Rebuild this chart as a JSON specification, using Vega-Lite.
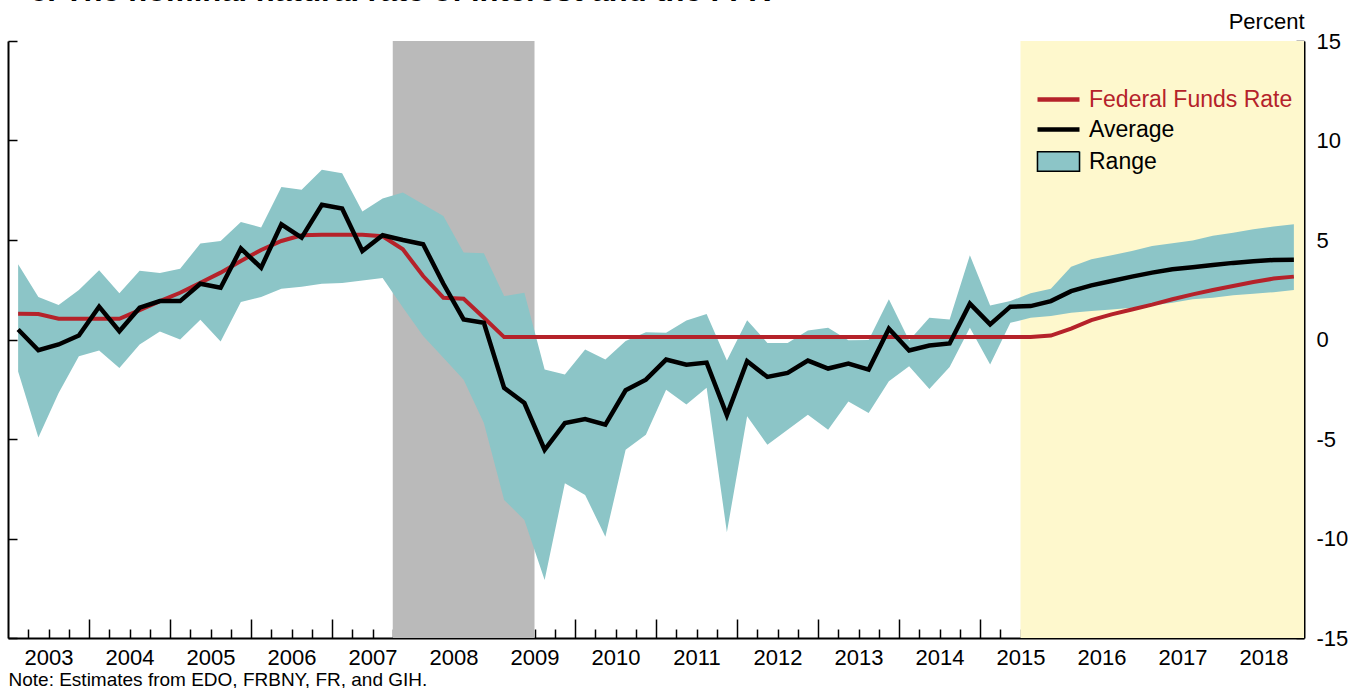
{
  "$schema": "https://vega.github.io/schema/vega-lite/v6.json",
  "width": 1296,
  "height": 597,
  "autosize": {"type": "none"},
  "padding": {"left": 8, "top": 41, "right": 65, "bottom": 50},
  "background": "white",
  "title": {
    "text": "c. The nominal natural rate of interest and the FFR",
    "anchor": "start",
    "frame": "group",
    "font": "Liberation Sans",
    "fontSize": 31,
    "fontWeight": "bold",
    "color": "black",
    "baseline": "alphabetic",
    "offset": 0,
    "dx": 22,
    "dy": 22
  },
  "config": {
    "view": {"stroke": null},
    "font": "Liberation Sans",
    "axis": {
      "grid": false,
      "labelFont": "Liberation Sans",
      "labelColor": "black",
      "domainColor": "black",
      "tickColor": "black",
      "titleFont": "Liberation Sans",
      "titleFontWeight": "normal",
      "titleColor": "black"
    },
    "legend": {
      "title": null,
      "orient": "none",
      "legendX": 1039,
      "legendY": 47,
      "direction": "vertical",
      "labelFont": "Liberation Sans",
      "labelFontSize": 23,
      "labelOffset": 19,
      "labelLimit": 0,
      "symbolSize": 400,
      "rowPadding": 6,
      "padding": 0
    }
  },
  "datasets": {
    "est": [
      {"t": 2003.125, "lo": -1.61, "hi": 3.78, "avg": 0.50, "ffr": 1.29},
      {"t": 2003.375, "lo": -4.92, "hi": 2.13, "avg": -0.54, "ffr": 1.28},
      {"t": 2003.625, "lo": -2.69, "hi": 1.73, "avg": -0.25, "ffr": 1.04},
      {"t": 2003.875, "lo": -0.84, "hi": 2.49, "avg": 0.20, "ffr": 1.04},
      {"t": 2004.125, "lo": -0.55, "hi": 3.48, "avg": 1.65, "ffr": 1.04},
      {"t": 2004.375, "lo": -1.43, "hi": 2.32, "avg": 0.42, "ffr": 1.04},
      {"t": 2004.625, "lo": -0.25, "hi": 3.46, "avg": 1.60, "ffr": 1.48},
      {"t": 2004.875, "lo": 0.40, "hi": 3.34, "avg": 1.93, "ffr": 1.93},
      {"t": 2005.125, "lo": 0.00, "hi": 3.56, "avg": 1.93, "ffr": 2.35},
      {"t": 2005.375, "lo": 0.99, "hi": 4.82, "avg": 2.80, "ffr": 2.85},
      {"t": 2005.625, "lo": -0.10, "hi": 4.95, "avg": 2.60, "ffr": 3.36},
      {"t": 2005.875, "lo": 1.88, "hi": 5.91, "avg": 4.57, "ffr": 3.95},
      {"t": 2006.125, "lo": 2.13, "hi": 5.63, "avg": 3.61, "ffr": 4.50},
      {"t": 2006.375, "lo": 2.55, "hi": 7.66, "avg": 5.79, "ffr": 4.95},
      {"t": 2006.625, "lo": 2.65, "hi": 7.52, "avg": 5.12, "ffr": 5.24},
      {"t": 2006.875, "lo": 2.80, "hi": 8.53, "avg": 6.77, "ffr": 5.26},
      {"t": 2007.125, "lo": 2.84, "hi": 8.36, "avg": 6.58, "ffr": 5.26},
      {"t": 2007.375, "lo": 2.97, "hi": 6.43, "avg": 4.45, "ffr": 5.26},
      {"t": 2007.625, "lo": 3.09, "hi": 7.09, "avg": 5.24, "ffr": 5.19},
      {"t": 2007.875, "lo": 1.61, "hi": 7.39, "avg": 5.00, "ffr": 4.53},
      {"t": 2008.125, "lo": 0.17, "hi": 6.80, "avg": 4.79, "ffr": 3.19},
      {"t": 2008.375, "lo": -0.92, "hi": 6.21, "avg": 2.80, "ffr": 2.10},
      {"t": 2008.625, "lo": -2.02, "hi": 4.37, "avg": 1.01, "ffr": 2.05},
      {"t": 2008.875, "lo": -4.20, "hi": 4.33, "avg": 0.84, "ffr": 1.09},
      {"t": 2009.125, "lo": -8.06, "hi": 2.18, "avg": -2.43, "ffr": 0.12},
      {"t": 2009.375, "lo": -9.07, "hi": 2.35, "avg": -3.19, "ffr": 0.12},
      {"t": 2009.625, "lo": -12.09, "hi": -1.51, "avg": -5.54, "ffr": 0.12},
      {"t": 2009.875, "lo": -7.22, "hi": -1.76, "avg": -4.20, "ffr": 0.12},
      {"t": 2010.125, "lo": -7.81, "hi": -0.50, "avg": -4.00, "ffr": 0.12},
      {"t": 2010.375, "lo": -9.91, "hi": -1.01, "avg": -4.28, "ffr": 0.12},
      {"t": 2010.625, "lo": -5.54, "hi": -0.08, "avg": -2.55, "ffr": 0.12},
      {"t": 2010.875, "lo": -4.79, "hi": 0.37, "avg": -2.02, "ffr": 0.12},
      {"t": 2011.125, "lo": -2.52, "hi": 0.34, "avg": -1.01, "ffr": 0.12},
      {"t": 2011.375, "lo": -3.27, "hi": 0.95, "avg": -1.27, "ffr": 0.12},
      {"t": 2011.625, "lo": -2.43, "hi": 1.28, "avg": -1.16, "ffr": 0.12},
      {"t": 2011.875, "lo": -9.68, "hi": -1.05, "avg": -3.80, "ffr": 0.12},
      {"t": 2012.125, "lo": -3.86, "hi": 0.97, "avg": -1.09, "ffr": 0.12},
      {"t": 2012.375, "lo": -5.29, "hi": -0.17, "avg": -1.88, "ffr": 0.12},
      {"t": 2012.625, "lo": -4.53, "hi": -0.17, "avg": -1.68, "ffr": 0.12},
      {"t": 2012.875, "lo": -3.78, "hi": 0.45, "avg": -1.06, "ffr": 0.12},
      {"t": 2013.125, "lo": -4.53, "hi": 0.59, "avg": -1.46, "ffr": 0.12},
      {"t": 2013.375, "lo": -3.11, "hi": -0.04, "avg": -1.21, "ffr": 0.12},
      {"t": 2013.625, "lo": -3.69, "hi": -0.02, "avg": -1.51, "ffr": 0.12},
      {"t": 2013.875, "lo": -2.10, "hi": 2.02, "avg": 0.54, "ffr": 0.12},
      {"t": 2014.125, "lo": -1.34, "hi": -0.05, "avg": -0.55, "ffr": 0.12},
      {"t": 2014.375, "lo": -2.49, "hi": 1.09, "avg": -0.30, "ffr": 0.12},
      {"t": 2014.625, "lo": -1.38, "hi": 1.01, "avg": -0.20, "ffr": 0.12},
      {"t": 2014.875, "lo": 0.59, "hi": 4.23, "avg": 1.80, "ffr": 0.12},
      {"t": 2015.125, "lo": -1.26, "hi": 1.71, "avg": 0.76, "ffr": 0.12},
      {"t": 2015.375, "lo": 0.84, "hi": 1.93, "avg": 1.65, "ffr": 0.12},
      {"t": 2015.625, "lo": 1.09, "hi": 2.33, "avg": 1.68, "ffr": 0.13},
      {"t": 2015.875, "lo": 1.18, "hi": 2.55, "avg": 1.93, "ffr": 0.20},
      {"t": 2016.125, "lo": 1.34, "hi": 3.66, "avg": 2.43, "ffr": 0.55},
      {"t": 2016.375, "lo": 1.43, "hi": 4.03, "avg": 2.72, "ffr": 0.97},
      {"t": 2016.625, "lo": 1.51, "hi": 4.23, "avg": 2.94, "ffr": 1.26},
      {"t": 2016.875, "lo": 1.60, "hi": 4.45, "avg": 3.16, "ffr": 1.51},
      {"t": 2017.125, "lo": 1.71, "hi": 4.70, "avg": 3.36, "ffr": 1.75},
      {"t": 2017.375, "lo": 1.85, "hi": 4.84, "avg": 3.53, "ffr": 2.02},
      {"t": 2017.625, "lo": 2.02, "hi": 4.97, "avg": 3.63, "ffr": 2.27},
      {"t": 2017.875, "lo": 2.10, "hi": 5.21, "avg": 3.74, "ffr": 2.49},
      {"t": 2018.125, "lo": 2.22, "hi": 5.37, "avg": 3.85, "ffr": 2.69},
      {"t": 2018.375, "lo": 2.30, "hi": 5.54, "avg": 3.93, "ffr": 2.89},
      {"t": 2018.625, "lo": 2.38, "hi": 5.68, "avg": 4.00, "ffr": 3.06},
      {"t": 2018.875, "lo": 2.49, "hi": 5.79, "avg": 4.01, "ffr": 3.16}
    ],
    "shade": [
      {"start": 2007.75, "end": 2009.5, "period": "Recession"},
      {"start": 2015.5, "end": 2019, "period": "Projection"}
    ]
  },
  "layer": [
    {
      "data": {"name": "shade"},
      "mark": {"type": "rect"},
      "encoding": {
        "x": {"field": "start", "type": "quantitative", "scale": {"domain": [2003, 2019], "nice": false, "zero": false}, "axis": null},
        "x2": {"field": "end"},
        "fill": {"field": "period", "type": "nominal", "scale": {"domain": ["Recession", "Projection"], "range": ["#bababa", "#fef8cd"]}, "legend": null}
      }
    },
    {
      "data": {"name": "est"},
      "mark": {"type": "area", "opacity": 1},
      "encoding": {
        "x": {"field": "t", "type": "quantitative", "axis": {
          "orient": "bottom",
          "values": [2003.25, 2003.5, 2003.75, 2004.25, 2004.5, 2004.75, 2005.25, 2005.5, 2005.75, 2006.25, 2006.5, 2006.75, 2007.25, 2007.5, 2007.75, 2008.25, 2008.5, 2008.75, 2009.25, 2009.5, 2009.75, 2010.25, 2010.5, 2010.75, 2011.25, 2011.5, 2011.75, 2012.25, 2012.5, 2012.75, 2013.25, 2013.5, 2013.75, 2014.25, 2014.5, 2014.75, 2015.25, 2015.5, 2015.75, 2016.25, 2016.5, 2016.75, 2017.25, 2017.5, 2017.75, 2018.25, 2018.5, 2018.75],
          "tickSize": -9, "tickWidth": 1.5, "labels": false, "domain": false, "title": null}},
        "y": {"field": "lo", "type": "quantitative", "scale": {"domain": [-15, 15], "nice": false, "zero": false}, "axis": {
          "orient": "left", "values": [-15, -10, -5, 0, 5, 10, 15], "tickSize": -9, "tickWidth": 1.5, "labels": false, "domain": true, "domainWidth": 2, "title": null}},
        "y2": {"field": "hi"},
        "color": {
          "datum": "Range",
          "scale": {"domain": ["Federal Funds Rate", "Average", "Range"], "range": ["#b5222a", "#000000", "#8cc5c7"]},
          "legend": {
            "labelColor": {"expr": "datum.label === 'Federal Funds Rate' ? '#b5222a' : '#000000'"},
            "symbolType": {"expr": "datum.label === 'Range' ? 'M-2.1,-0.97H2.1V0.97H-2.1Z' : 'M-2.1,0H2.1'"},
            "symbolStrokeWidth": {"expr": "datum.label === 'Range' ? 1.5 : 4.5"},
            "symbolStrokeColor": {"expr": "datum.label === 'Federal Funds Rate' ? '#b5222a' : '#000000'"},
            "symbolFillColor": {"expr": "datum.label === 'Range' ? '#8cc5c7' : 'transparent'"}
          }
        }
      }
    },
    {
      "mark": {"type": "rule", "color": "black", "strokeWidth": 2},
      "encoding": {
        "y": {"datum": 0, "axis": null},
        "strokeDash": {
          "datum": "Range",
          "scale": {"domain": ["Range"], "range": [[1, 0]]},
          "legend": {
            "legendX": 1039,
            "legendY": 109,
            "labelExpr": "''",
            "symbolType": "M-2.1,-0.97H2.1V0.97H-2.1Z",
            "symbolStrokeColor": "#000000",
            "symbolFillColor": "transparent",
            "symbolStrokeWidth": 1.5
          }
        }
      }
    },
    {
      "data": {"name": "est"},
      "mark": {"type": "line", "strokeWidth": 4},
      "encoding": {
        "x": {"field": "t", "type": "quantitative", "axis": {
          "orient": "bottom",
          "values": [2004, 2005, 2006, 2007, 2008, 2009, 2010, 2011, 2012, 2013, 2014, 2015, 2016, 2017, 2018],
          "tickSize": -19, "tickWidth": 1.5, "labels": false, "domain": true, "domainWidth": 2, "title": null}},
        "y": {"field": "ffr", "type": "quantitative", "axis": {
          "orient": "right", "values": [-15, -10, -5, 0, 5, 10, 15], "tickSize": -8, "tickWidth": 1.5,
          "labelExpr": "datum.value < 0 ? '-' + abs(datum.value) : '' + datum.value",
          "labelFontSize": 22, "labelPadding": 20, "labelBaseline": "middle", "labelAlign": "left", "labelFlush": false,
          "domain": true, "domainWidth": 2,
          "title": "Percent", "titleAngle": 0, "titleX": 0, "titleY": -13, "titleAlign": "right", "titleBaseline": "alphabetic", "titleFontSize": 22, "titleFontWeight": "normal"}},
        "color": {"datum": "Federal Funds Rate"}
      }
    },
    {
      "data": {"name": "est"},
      "mark": {"type": "line", "strokeWidth": 4.5},
      "encoding": {
        "x": {"field": "t", "type": "quantitative", "axis": {
          "orient": "bottom",
          "values": [2003.5, 2004.5, 2005.5, 2006.5, 2007.5, 2008.5, 2009.5, 2010.5, 2011.5, 2012.5, 2013.5, 2014.5, 2015.5, 2016.5, 2017.5, 2018.5],
          "ticks": false, "tickSize": 0, "domain": false, "labelExpr": "floor(datum.value)", "labelFontSize": 22, "labelPadding": 9, "labelFlush": false, "labelOverlap": false,
          "title": "Note: Estimates from EDO, FRBNY, FR, and GIH.", "titleX": 0, "titleY": 47, "titleAlign": "left", "titleAnchor": "start", "titleBaseline": "alphabetic", "titleFontSize": 19, "titleFontWeight": "normal"}},
        "y": {"field": "avg", "type": "quantitative", "axis": null},
        "color": {"datum": "Average"}
      }
    }
  ],
  "resolve": {"axis": {"x": "independent", "y": "independent"}}
}
